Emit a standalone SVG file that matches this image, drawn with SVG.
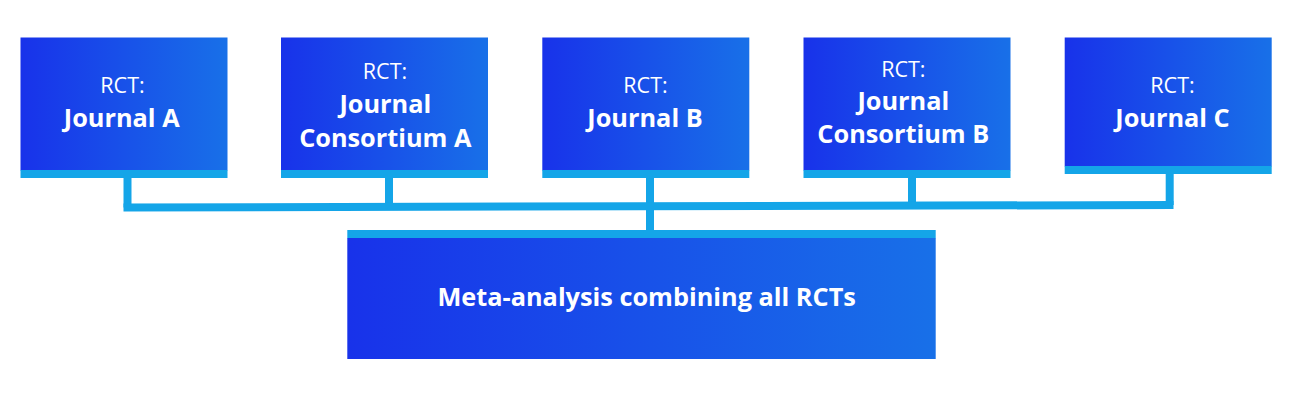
<svg xmlns="http://www.w3.org/2000/svg" width="1294" height="400" viewBox="0 0 1294 400">
<defs>
<linearGradient id="g" x1="0" y1="0" x2="1" y2="0">
<stop offset="0" stop-color="#1832ea"/>
<stop offset="1" stop-color="#1870e8"/>
</linearGradient>
<style>
.box{fill:url(#g)}
.bar{fill:#14a5e8}
.conn{stroke:#14a5e8;stroke-width:8;fill:none}
text{font-family:"Open Sans","Noto Sans",sans-serif;fill:#ffffff;text-anchor:middle}
.r{font-size:21.5px;font-weight:400}
.b{font-size:25.3px;font-weight:700}
</style>
</defs>
<rect width="1294" height="400" fill="#ffffff"/>
<g id="connectors">
<path class="conn" d="M127.5 178 V207.5"/>
<path class="conn" d="M389 178 V207"/>
<path class="conn" d="M650 178 V230"/>
<path class="conn" d="M912 178 V205.5"/>
<path class="conn" d="M1169.7 174 V205"/>
<path class="conn" d="M123.5 207.5 L1173.5 205"/>
</g>
<g id="n1">
<rect class="box" x="20.5" y="37.5" width="207" height="133"/>
<rect class="bar" x="20.5" y="170" width="207" height="8"/>
<text class="r" x="122.5" y="93.3">RCT:</text>
<text class="b" x="121.7" y="127.3">Journal A</text>
</g>
<g id="n2">
<rect class="box" x="281" y="37.5" width="207" height="133"/>
<rect class="bar" x="281" y="170" width="207" height="8"/>
<text class="r" x="385" y="79.3">RCT:</text>
<text class="b" x="385.3" y="112.7">Journal</text>
<text class="b" x="385.3" y="146.7">Consortium A</text>
</g>
<g id="n3">
<rect class="box" x="542.3" y="37.5" width="207" height="133"/>
<rect class="bar" x="542.3" y="170" width="207" height="8"/>
<text class="r" x="645.5" y="93.3">RCT:</text>
<text class="b" x="645" y="126.7">Journal B</text>
</g>
<g id="n4">
<rect class="box" x="803.5" y="37.5" width="207" height="133"/>
<rect class="bar" x="803.5" y="170" width="207" height="8"/>
<text class="r" x="903.3" y="76.7">RCT:</text>
<text class="b" x="903.3" y="110">Journal</text>
<text class="b" x="903.3" y="143.3">Consortium B</text>
</g>
<g id="n5">
<rect class="box" x="1064.7" y="37.5" width="207" height="129"/>
<rect class="bar" x="1064.7" y="166" width="207" height="8"/>
<text class="r" x="1172.5" y="93.3">RCT:</text>
<text class="b" x="1172.5" y="127.3">Journal C</text>
</g>
<g id="meta">
<rect class="bar" x="347.3" y="230" width="588.4" height="8.3"/>
<rect class="box" x="347.3" y="238" width="588.4" height="121"/>
<text class="b" x="646.7" y="306">Meta-analysis combining all RCTs</text>
</g>
</svg>
